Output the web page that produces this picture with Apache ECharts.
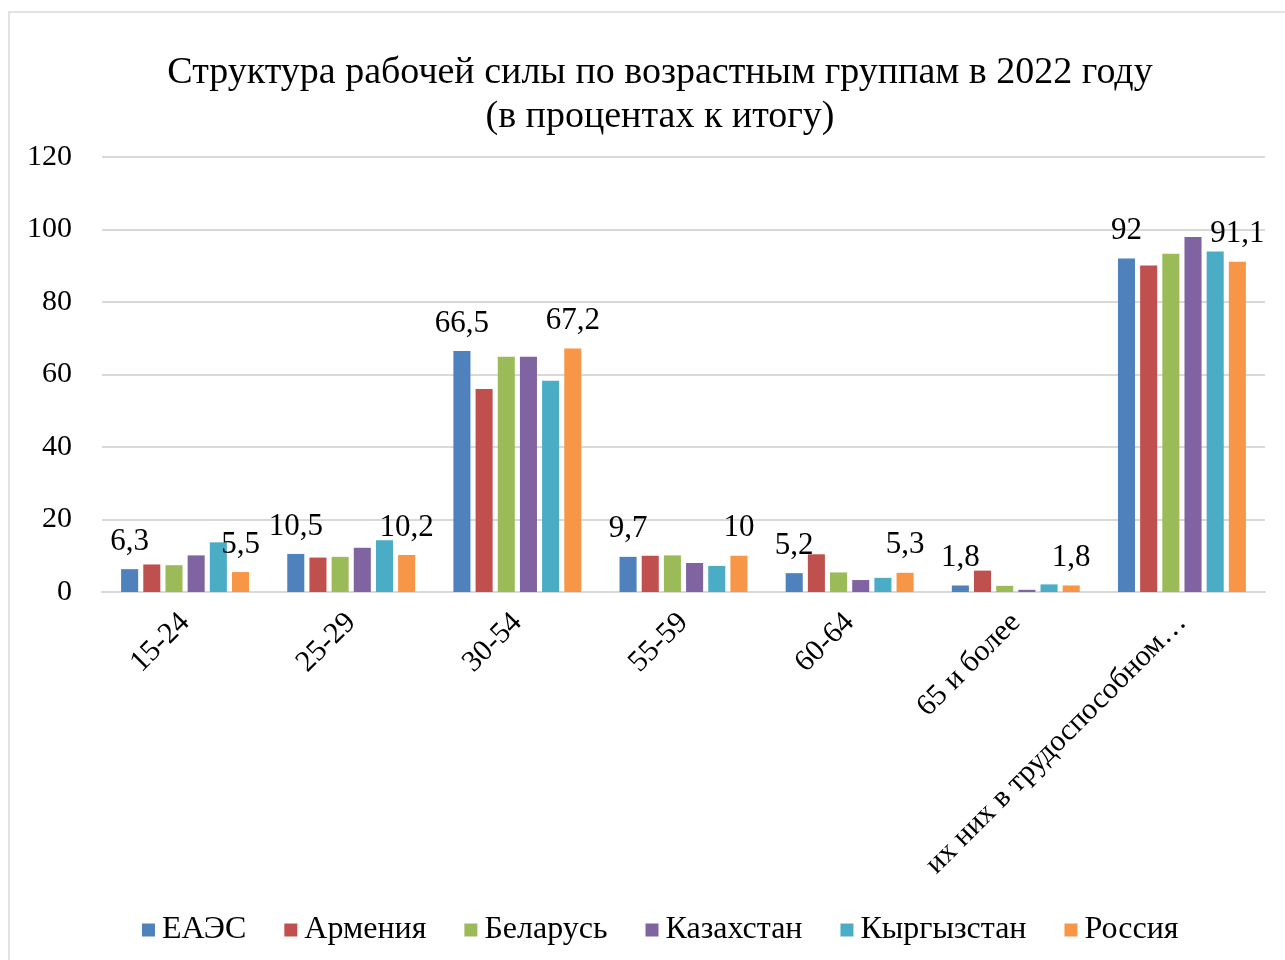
<!DOCTYPE html>
<html>
<head>
<meta charset="utf-8">
<script src="https://cdn.jsdelivr.net/npm/echarts@6/dist/echarts.min.js"></script>
<style>
html,body{margin:0;padding:0;background:#fff;}
#chart{width:1285px;height:960px;}
</style>
</head>
<body>
<div id="chart"></div>
<script>
const categories = ['15-24', '25-29', '30-54', '55-59', '60-64', '65 и более', 'их них в трудоспособном…'];
const seriesNames = ['ЕАЭС', 'Армения', 'Беларусь', 'Казахстан', 'Кыргызстан', 'Россия'];
const eaes       = [6.3, 10.5, 66.5, 9.7, 5.2, 1.8, 92];
const armenia    = [7.6, 9.5, 56.0, 10.0, 10.4, 5.9, 90.1];
const belarus    = [7.4, 9.7, 64.9, 10.1, 5.4, 1.7, 93.3];
const kazakhstan = [10.1, 12.2, 64.9, 8.0, 3.3, 0.6, 97.9];
const kyrgyzstan = [13.7, 14.3, 58.3, 7.2, 3.9, 2.1, 93.9];
const russia     = [5.5, 10.2, 67.2, 10, 5.3, 1.8, 91.1];
const yTicks = [0, 20, 40, 60, 80, 100, 120];

const colors = ['#4f81bd', '#c0504d', '#9bbb59', '#8064a2', '#4bacc6', '#f79646'];
const FONT = '"Liberation Serif", "Times New Roman", serif';
const allData = [eaes, armenia, belarus, kazakhstan, kyrgyzstan, russia];
const labelled = [true, false, false, false, false, true];

const chart = echarts.init(document.getElementById('chart'));

const series = seriesNames.map((name, i) => ({
  name: name,
  type: 'bar',
  data: allData[i],
  barGap: '30%',
  barCategoryGap: '23%',
  itemStyle: { color: colors[i] },
  label: labelled[i] ? {
    show: true,
    position: 'top',
    distance: 12,
    fontFamily: FONT,
    fontSize: 31,
    color: '#000',
    formatter: p => String(p.value).replace('.', ',')
  } : { show: false }
}));

chart.setOption({
  animation: false,
  color: colors,
  graphic: [
    { type: 'rect', shape: { x: 9, y: 12, width: 1400, height: 1100 }, style: { fill: 'none', stroke: '#d9d9d9', lineWidth: 1.5 }, silent: true, z: -10 },
    { type: 'text', x: 660, y: 73, style: { text: 'Структура рабочей силы по возрастным группам в 2022 году', font: '38px ' + FONT, fill: '#000', textAlign: 'center', textVerticalAlign: 'middle' } },
    { type: 'text', x: 660, y: 117, style: { text: '(в процентах к итогу)', font: '38px ' + FONT, fill: '#000', textAlign: 'center', textVerticalAlign: 'middle' } }
  ],
  grid: { left: 102, right: 20, top: 157, bottom: 368, containLabel: false },
  legend: {
    data: seriesNames,
    top: 909,
    left: 137,
    itemWidth: 13,
    itemHeight: 13,
    itemGap: 38,
    icon: 'rect',
    textStyle: { fontFamily: FONT, fontSize: 32, color: '#000', padding: [0, 0, 0, 2] }
  },
  xAxis: {
    type: 'category',
    data: categories,
    axisLine: { lineStyle: { color: '#d9d9d9', width: 2 } },
    axisTick: { show: false },
    axisLabel: { rotate: 45, margin: 26, interval: 0, fontFamily: FONT, fontSize: 30, color: '#000' }
  },
  yAxis: {
    type: 'value',
    min: 0,
    max: 120,
    interval: 20,
    axisLine: { show: false },
    axisTick: { show: false },
    splitLine: { lineStyle: { color: '#d9d9d9', width: 2 } },
    axisLabel: { margin: 30, fontFamily: FONT, fontSize: 30, color: '#000',
      formatter: v => yTicks.includes(v) ? String(v) : '' }
  },
  series: series
});
</script>
</body>
</html>
